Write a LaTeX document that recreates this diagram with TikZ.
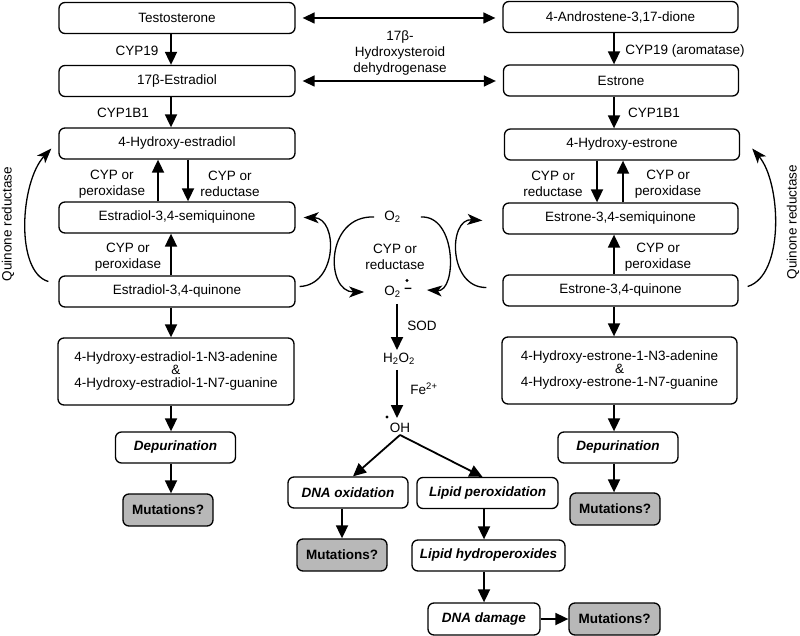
\documentclass[tikz,border=0pt]{standalone}
\usepackage{fontspec}
\setmainfont{Liberation Sans}
\usetikzlibrary{arrows.meta,calc}
\begin{document}
\begin{tikzpicture}[x=1pt,y=-1pt,
  font=\fontsize{13.5}{16}\selectfont,
  box/.style={draw,line width=1.3pt,rounded corners=6pt,minimum height=31pt,inner sep=0pt,align=center},
  wbox/.style={box,minimum width=236pt},
  sbox/.style={box,font=\fontsize{13.5}{16}\selectfont\bfseries\itshape},
  mut/.style={box,fill=black!28,minimum width=90pt,minimum height=32pt,font=\fontsize{13.5}{16}\selectfont\bfseries},
  lbl/.style={inner sep=0pt,align=center},
  raddot/.style={circle,fill,inner sep=0pt,minimum size=3.2pt},
  arr/.style={line width=1.8pt,-{Triangle[length=13pt,width=12pt]}},
  darr/.style={line width=1.4pt,{Triangle[length=12pt,width=11pt]}-{Triangle[length=12pt,width=11pt]},shorten <=7pt,shorten >=7pt},
  carr/.style={line width=1.3pt,-{Stealth[length=15pt,width=11pt,inset=4pt]}}
]
\useasboundingbox (0,0) rectangle (800,636);

% x positions of vertical arrows
\coordinate (xL) at (171,0);
\coordinate (xR) at (614,0);
\coordinate (xLa) at (158,0);
\coordinate (xLb) at (188,0);
\coordinate (xRa) at (597,0);
\coordinate (xRb) at (623,0);
\coordinate (xM) at (397,0);
\coordinate (xH) at (484,0);

% left column
\node[wbox] (testo) at (177,18) {Testosterone};
\node[wbox] (e2) at (177,81) {17β-Estradiol};
\node[wbox] (ohe2) at (177,143.5) {4-Hydroxy-estradiol};
\node[wbox] (semie2) at (177,217.5) {Estradiol-3,4-semiquinone};
\node[wbox] (quine2) at (177,291.5) {Estradiol-3,4-quinone};
\node[wbox,minimum height=67pt] (adde2) at (176,371.5) {4-Hydroxy-estradiol-1-N3-adenine\\[-3pt]\&\\[-3pt]4-Hydroxy-estradiol-1-N7-guanine};
\node[sbox,minimum width=120pt] (depL) at (175.5,447.5) {Depurination};
\node[mut] (mutL) at (168,510) {Mutations?};

% right column
\node[wbox,minimum width=235pt] (andro) at (620.5,17) {4-Androstene-3,17-dione};
\node[wbox,minimum width=235pt] (e1) at (621,80.5) {Estrone};
\node[wbox,minimum width=235pt] (ohe1) at (622,144.5) {4-Hydroxy-estrone};
\node[wbox,minimum width=235pt] (semie1) at (620.5,218.5) {Estrone-3,4-semiquinone};
\node[wbox,minimum width=235pt] (quine1) at (620.5,290.5) {Estrone-3,4-quinone};
\node[wbox,minimum width=235pt,minimum height=67pt] (adde1) at (619.5,370.5) {4-Hydroxy-estrone-1-N3-adenine\\[-3pt]\&\\[-3pt]4-Hydroxy-estrone-1-N7-guanine};
\node[sbox,minimum width=120pt] (depR) at (618,447.5) {Depurination};
\node[mut] (mutR) at (615,509) {Mutations?};

% middle
\node[sbox,minimum width=120pt] (dnaox) at (348,492.5) {DNA oxidation};
\node[sbox,minimum width=141pt] (lipox) at (487.5,493) {Lipid peroxidation};
\node[mut] (mutM) at (342,555) {Mutations?};
\node[sbox,minimum width=153pt] (liphyd) at (488.5,555.5) {Lipid hydroperoxides};
\node[sbox,minimum width=112pt,minimum height=32pt] (dnadam) at (484,619) {DNA damage};
\node[mut,minimum width=91pt] (mutB) at (614.5,619) {Mutations?};

\node[lbl] (o2) at (392.5,217) {O\textsubscript{2}};
\node[lbl] (o2r) at (392.5,292) {O\textsubscript{2}};
\node[lbl,font=\fontsize{13.5}{16}\selectfont\bfseries] (minus) at (408,290) {–};
\node[raddot] (rad1) at (407,280.5) {};
\node[lbl] (h2o2) at (399,359) {H\textsubscript{2}O\textsubscript{2}};
\node[lbl] (oh) at (400,428) {OH};
\node[raddot] (rad2) at (387,417) {};

% labels
\node[lbl] at (137,51) {CYP19};
\node[lbl] at (123,113) {CYP1B1};
\node[lbl] at (112,184) {CYP or\\peroxidase};
\node[lbl] at (230,184) {CYP or\\reductase};
\node[lbl] at (128,257) {CYP or\\peroxidase};
\node[lbl] at (685,51) {CYP19 (aromatase)};
\node[lbl] at (654,113) {CYP1B1};
\node[lbl] at (553,184) {CYP or\\reductase};
\node[lbl] at (668,184) {CYP or\\peroxidase};
\node[lbl] at (658,257) {CYP or\\peroxidase};
\node[lbl] at (400,53) {17β-\\Hydroxysteroid\\dehydrogenase};
\node[lbl] at (395,257) {CYP or\\reductase};
\node[lbl] at (422,326) {SOD};
\node[lbl] at (424,389) {Fe\textsuperscript{2+}};
\node[lbl,rotate=90] at (8,224) {Quinone reductase};
\node[lbl,rotate=90] at (793,222) {Quinone reductase};

% left column arrows
\draw[arr] (testo.south -| xL) -- (e2.north -| xL);
\draw[arr] (e2.south -| xL) -- (ohe2.north -| xL);
\draw[arr] (semie2.north -| xLa) -- (ohe2.south -| xLa);
\draw[arr] (ohe2.south -| xLb) -- (semie2.north -| xLb);
\draw[arr] (quine2.north -| xL) -- (semie2.south -| xL);
\draw[arr] (quine2.south -| xL) -- (adde2.north -| xL);
\draw[arr] (adde2.south -| xL) -- (depL.north -| xL);
\draw[arr] (depL.south -| xL) -- (mutL.north -| xL);

% right column arrows
\draw[arr] (andro.south -| xR) -- (e1.north -| xR);
\draw[arr] (e1.south -| xR) -- (ohe1.north -| xR);
\draw[arr] (ohe1.south -| xRa) -- (semie1.north -| xRa);
\draw[arr] (semie1.north -| xRb) -- (ohe1.south -| xRb);
\draw[arr] (quine1.north -| xR) -- (semie1.south -| xR);
\draw[arr] (quine1.south -| xR) -- (adde1.north -| xR);
\draw[arr] (adde1.south -| xR) -- (depR.north -| xR);
\draw[arr] (depR.south -| xR) -- (mutR.north -| xR);

% double arrows
\draw[darr] (testo.east) -- (andro.west |- testo.east);
\draw[darr] (e2.east) -- (e1.west |- e2.east);

% middle arrows
\draw[arr] ([yshift=-6pt]o2r.south -| xM) -- ([yshift=3pt]h2o2.north -| xM);
\draw[arr] ([yshift=-5pt]h2o2.south -| xM) -- ([yshift=5pt]oh.north -| xM);
\draw[arr] ([yshift=-2pt]oh.south) -- ([xshift=5pt]dnaox.north);
\draw[arr] ([yshift=-2pt]oh.south) -- ([xshift=-5pt]lipox.north);
\draw[arr] (dnaox.south -| mutM) -- (mutM.north);
\draw[arr] (lipox.south -| xH) -- (liphyd.north -| xH);
\draw[arr] (liphyd.south -| dnadam) -- (dnadam.north);
\draw[arr] (dnadam.east) -- (mutB.west);

% quinone reductase curves
\draw[carr] ([xshift=-10pt,yshift=10pt]quine2.west) .. controls (15,272) and (20,182) .. ([xshift=-7pt,yshift=-5pt]ohe2.west);
\draw[carr] ([xshift=9pt,yshift=4pt]quine1.east) .. controls (785,275) and (781,182) .. ([xshift=12pt,yshift=-4pt]ohe1.east);

% redox cycling curves
\draw[carr] ([xshift=4pt,yshift=5pt]quine2.east) .. controls (338,285) and (338,218) .. ([xshift=8pt]semie2.east);
\draw[carr] ([xshift=-10pt]o2.west) .. controls (325,215) and (325,292) .. ([xshift=-20pt]o2r.west);
\draw[carr] ([xshift=20pt]o2.east) .. controls (457,215) and (457,292) .. ([xshift=15pt]minus.east);
\draw[carr] ([xshift=-16pt,yshift=3pt]quine1.west) .. controls (448,288) and (448,218) .. ([xshift=-20pt,yshift=-2pt]semie1.west);
\end{tikzpicture}
\end{document}
